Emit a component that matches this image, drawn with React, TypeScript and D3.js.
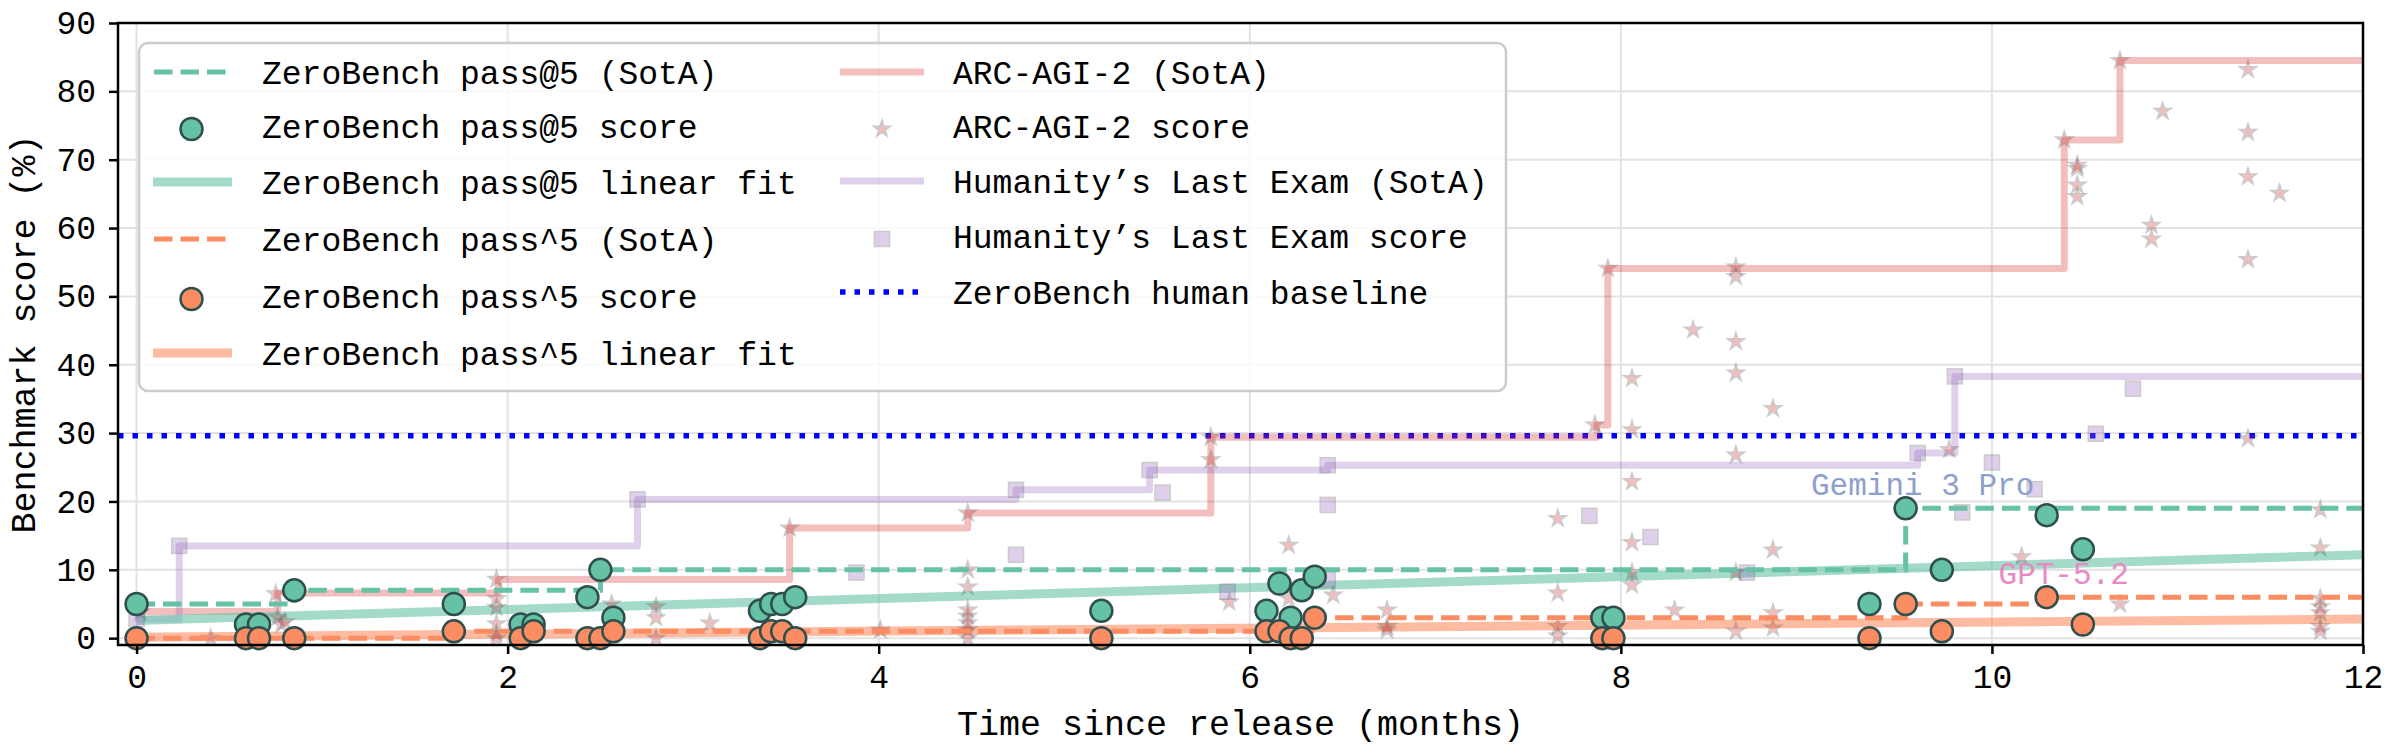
import * as React from 'react'
import * as d3 from 'd3'

const CHART_WIDTH = 2395
const CHART_HEIGHT = 755
const PLOT_LEFT = 118
const PLOT_RIGHT = 2363
const PLOT_TOP = 23
const PLOT_BOTTOM = 645
const FONT = '"Nimbus Mono PS", "Nimbus Mono L", "Courier New", Courier, FreeMono, "Liberation Mono", monospace'

// ZeroBench: months since release and scores (%) of each evaluated model
const zbMonths = [0, 0.59, 0.66, 0.85, 1.71, 2.07, 2.14, 2.43, 2.5, 2.57, 3.36, 3.42, 3.48, 3.55, 5.2, 6.09, 6.16, 6.22, 6.28, 6.35, 7.9, 7.96, 9.34, 9.535, 9.73, 10.295, 10.49]
const zbPass5 = [5, 2, 2, 7, 5, 2, 2, 6, 10, 3, 4, 5, 5, 6, 4, 4, 8, 3, 7, 9, 3, 3, 5, 19, 10, 18, 13]
const zbPassHat5 = [0, 0, 0, 0, 1, 0, 1, 0, 0, 1, 0, 1, 1, 0, 0, 1, 1, 0, 0, 3, 0, 0, 0, 5, 1, 6, 2]

// state of the art steps
const zbPass5SotaMonths = [0, 0.85, 2.5, 9.535, 12]
const zbPass5SotaValues = [5, 7, 10, 19, 19]
const zbPassHat5SotaMonths = [0, 1.71, 6.35, 9.535, 10.295, 12]
const zbPassHat5SotaValues = [0, 1, 3, 5, 6, 6]

// linear fits: [intercept, slope per month]
const zbPass5Fit = [2.6, 0.8]
const zbPassHat5Fit = [0.15, 0.22]
const fitMonths = [0, 12]

const arcSotaMonths = [0, 0.76, 1.95, 3.52, 4.48, 5.79, 7.87, 7.93, 10.39, 10.69, 12]
const arcSotaValues = [3.9, 6.6, 8.6, 16.1, 18.3, 29.4, 31.2, 54.1, 72.9, 84.5, 84.5]
const arcMonths = [0.02, 0.4, 0.75, 0.76, 0.78, 0.8, 1.94, 1.94, 1.94, 1.94, 1.94, 1.94, 2.56, 2.8, 2.8, 2.8, 3.09, 3.52, 4.01, 4.48, 4.48, 4.48, 4.48, 4.48, 4.48, 4.48, 4.48, 5.79, 5.79, 5.89, 6.21, 6.21, 6.45, 6.74, 6.74, 6.74, 7.66, 7.66, 7.66, 7.66, 7.86, 7.93, 8.06, 8.06, 8.06, 8.06, 8.06, 8.06, 8.29, 8.39, 8.62, 8.62, 8.62, 8.62, 8.62, 8.62, 8.62, 8.82, 8.82, 8.82, 8.82, 9.77, 10.16, 10.39, 10.46, 10.46, 10.46, 10.46, 10.69, 10.69, 10.86, 10.86, 10.92, 11.38, 11.38, 11.38, 11.38, 11.38, 11.55, 11.77, 11.77, 11.77, 11.77, 11.77, 11.77, 11.77]
const arcScores = [3.8, 0, 6.5, 3.0, 2.0, 2.4, 8.6, 5.8, 4.5, 2.1, 0.7, 0, 5.0, 4.6, 3.0, 0, 2.2, 16.1, 1.2, 18.3, 10, 7.5, 4.1, 3.2, 2.2, 1.2, 0, 29.4, 26.1, 5.3, 13.6, 5.8, 6.3, 4.1, 1.7, 1.2, 17.5, 6.6, 1.7, 0.3, 31.2, 54.1, 38.0, 30.5, 22.9, 14.0, 9.6, 7.8, 4.1, 45.1, 54.3, 52.9, 43.4, 38.8, 26.8, 9.6, 1.0, 33.6, 12.9, 3.7, 1.5, 27.6, 11.9, 72.9, 69.2, 68.7, 66.3, 64.6, 84.5, 5.0, 60.4, 58.4, 77.1, 83.2, 74.0, 67.5, 55.4, 29.2, 65.1, 18.8, 13.2, 5.8, 4.6, 3.7, 1.7, 1.0]

const hleSotaMonths = [0, 0.23, 2.7, 4.74, 5.46, 6.42, 9.6, 9.8, 12]
const hleSotaValues = [2.8, 13.5, 20.3, 21.7, 24.6, 25.3, 27.1, 38.3, 38.3]
const hleMonths = [0, 0.23, 2.7, 3.88, 4.74, 4.74, 5.46, 5.53, 5.88, 6.42, 6.42, 6.42, 7.83, 8.16, 8.68, 9.6, 9.8, 9.84, 10.0, 10.23, 10.56, 10.76]
const hleScores = [2.8, 13.5, 20.3, 9.6, 21.7, 12.2, 24.6, 21.3, 6.8, 25.3, 19.5, 8.5, 17.9, 14.8, 9.6, 27.1, 38.3, 18.4, 25.7, 21.8, 29.9, 36.5]

const humanBaseline = 29.6

const annotations = [
  { label: 'Gemini 3 Pro', month: 9.535, value: 19, color: '#8da0cb' },
  { label: 'GPT-5.2', month: 10.295, value: 6, color: '#e78ac3' }
]

const xTicks = [0, 2, 4, 6, 8, 10, 12]
const yTicks = [0, 10, 20, 30, 40, 50, 60, 70, 80, 90]

const GREEN = '#66c2a5'
const ORANGE = '#fc8d62'
const RED = '#d62728'
const PURPLE = '#9467bd'
const EDGE = '#2f4f4f'

type Pt = [number, number]
const zip = (a: number[], b: number[]): Pt[] => a.map((v, i) => [v, b[i]])

function drawChart(svgEl: SVGSVGElement) {
  const svg = d3.select(svgEl)
  svg.selectAll('*').remove()

  const x = d3.scaleLinear().domain([-0.1, 12]).range([PLOT_LEFT, PLOT_RIGHT])
  const y = d3.scaleLinear().domain([-1, 90]).range([PLOT_BOTTOM, PLOT_TOP])

  svg.append('defs')
    .append('clipPath')
    .attr('id', 'plot-clip')
    .append('rect')
    .attr('x', PLOT_LEFT)
    .attr('y', PLOT_TOP)
    .attr('width', PLOT_RIGHT - PLOT_LEFT)
    .attr('height', PLOT_BOTTOM - PLOT_TOP)

  // grid
  const grid = svg.append('g').attr('stroke', '#e3e3e3').attr('stroke-width', 2)
  grid.selectAll('line.gx').data(xTicks).join('line')
    .attr('class', 'gx')
    .attr('x1', d => x(d)).attr('x2', d => x(d))
    .attr('y1', PLOT_TOP).attr('y2', PLOT_BOTTOM)
  grid.selectAll('line.gy').data(yTicks).join('line')
    .attr('class', 'gy')
    .attr('x1', PLOT_LEFT).attr('x2', PLOT_RIGHT)
    .attr('y1', d => y(d)).attr('y2', d => y(d))

  const plot = svg.append('g').attr('clip-path', 'url(#plot-clip)')
  const stepLine = d3.line<Pt>().x(d => x(d[0])).y(d => y(d[1])).curve(d3.curveStepAfter)
  const straight = d3.line<Pt>().x(d => x(d[0])).y(d => y(d[1]))

  // human baseline
  plot.append('line')
    .attr('x1', PLOT_LEFT).attr('x2', PLOT_RIGHT)
    .attr('y1', y(humanBaseline)).attr('y2', y(humanBaseline))
    .attr('stroke', 'blue').attr('stroke-width', 5.5)
    .attr('stroke-dasharray', '5.5 9')

  // ARC-AGI-2 and HLE SotA
  plot.append('path')
    .attr('d', stepLine(zip(arcSotaMonths, arcSotaValues)))
    .attr('fill', 'none').attr('stroke', RED).attr('stroke-opacity', 0.3)
    .attr('stroke-width', 7).attr('stroke-linejoin', 'round')
  plot.append('path')
    .attr('d', stepLine(zip(hleSotaMonths, hleSotaValues)))
    .attr('fill', 'none').attr('stroke', PURPLE).attr('stroke-opacity', 0.3)
    .attr('stroke-width', 7).attr('stroke-linejoin', 'round')

  // linear fits
  const fitLine = (fit: number[]) => zip(fitMonths, fitMonths.map(m => fit[0] + fit[1] * m))
  plot.append('path')
    .attr('d', straight(fitLine(zbPass5Fit)))
    .attr('fill', 'none').attr('stroke', GREEN).attr('stroke-opacity', 0.6).attr('stroke-width', 9)
  plot.append('path')
    .attr('d', straight(fitLine(zbPassHat5Fit)))
    .attr('fill', 'none').attr('stroke', ORANGE).attr('stroke-opacity', 0.6).attr('stroke-width', 9)

  // ARC-AGI-2 stars
  const star = d3.symbol().type(d3.symbolStar).size(90)
  plot.append('g').selectAll('path').data(zip(arcMonths, arcScores)).join('path')
    .attr('d', star())
    .attr('transform', d => `translate(${x(d[0])},${y(d[1])})`)
    .attr('fill', RED).attr('stroke', '#555').attr('stroke-width', 1.5)
    .attr('opacity', 0.3)

  // HLE squares
  plot.append('g').selectAll('rect').data(zip(hleMonths, hleScores)).join('rect')
    .attr('x', d => x(d[0]) - 7.5).attr('y', d => y(d[1]) - 7.5)
    .attr('width', 15).attr('height', 15)
    .attr('fill', PURPLE).attr('stroke', '#555').attr('stroke-width', 1.5)
    .attr('opacity', 0.3)

  // ZeroBench SotA dashed steps
  plot.append('path')
    .attr('d', stepLine(zip(zbPass5SotaMonths, zbPass5SotaValues)))
    .attr('fill', 'none').attr('stroke', GREEN).attr('stroke-width', 5)
    .attr('stroke-dasharray', '18.5 8')
  plot.append('path')
    .attr('d', stepLine(zip(zbPassHat5SotaMonths, zbPassHat5SotaValues)))
    .attr('fill', 'none').attr('stroke', ORANGE).attr('stroke-width', 5)
    .attr('stroke-dasharray', '18.5 8')

  // ZeroBench scores
  svg.append('g').selectAll('circle').data(zip(zbMonths, zbPass5)).join('circle')
    .attr('cx', d => x(d[0])).attr('cy', d => y(d[1])).attr('r', 11)
    .attr('fill', GREEN).attr('stroke', EDGE).attr('stroke-width', 2.5)
  svg.append('g').selectAll('circle').data(zip(zbMonths, zbPassHat5)).join('circle')
    .attr('cx', d => x(d[0])).attr('cy', d => y(d[1])).attr('r', 11)
    .attr('fill', ORANGE).attr('stroke', EDGE).attr('stroke-width', 2.5)

  // annotations
  svg.append('g').selectAll('text').data(annotations).join('text')
    .attr('x', d => x(d.month) + 17)
    .attr('y', d => y(d.value) - 13)
    .attr('text-anchor', 'middle')
    .attr('font-family', FONT).attr('font-size', 31)
    .attr('fill', d => d.color)
    .text(d => d.label)

  // axes
  const yAxis = svg.append('g')
    .attr('transform', `translate(${PLOT_LEFT},0)`)
    .call(d3.axisLeft(y).tickValues(yTicks).tickSize(9).tickSizeOuter(0).tickPadding(13))
  const xAxis = svg.append('g')
    .attr('transform', `translate(0,${PLOT_BOTTOM})`)
    .call(d3.axisBottom(x).tickValues(xTicks).tickSize(9).tickSizeOuter(0).tickPadding(11))
  for (const ax of [yAxis, xAxis]) {
    ax.select('.domain').remove()
    ax.attr('font-family', FONT).attr('font-size', 33)
    ax.selectAll('line').attr('stroke-width', 2.5)
    ax.selectAll('text').attr('fill', '#000')
  }

  svg.append('rect')
    .attr('x', PLOT_LEFT).attr('y', PLOT_TOP)
    .attr('width', PLOT_RIGHT - PLOT_LEFT).attr('height', PLOT_BOTTOM - PLOT_TOP)
    .attr('fill', 'none').attr('stroke', '#000').attr('stroke-width', 2.5)

  svg.append('text')
    .attr('x', (PLOT_LEFT + PLOT_RIGHT) / 2).attr('y', 735)
    .attr('text-anchor', 'middle')
    .attr('font-family', FONT).attr('font-size', 35)
    .text('Time since release (months)')
  svg.append('text')
    .attr('transform', `translate(35,${(PLOT_TOP + PLOT_BOTTOM) / 2}) rotate(-90)`)
    .attr('text-anchor', 'middle')
    .attr('font-family', FONT).attr('font-size', 35)
    .text('Benchmark score (%)')

  drawLegend(svg)
}

type LegendKind = 'dash' | 'dot' | 'line' | 'fit' | 'circle' | 'star' | 'square'
interface LegendItem { label: string; kind: LegendKind; color: string; col: number; baseline: number }

const legendItems: LegendItem[] = [
  { label: 'ZeroBench pass@5 (SotA)', kind: 'dash', color: GREEN, col: 0, baseline: 84 },
  { label: 'ZeroBench pass@5 score', kind: 'circle', color: GREEN, col: 0, baseline: 138 },
  { label: 'ZeroBench pass@5 linear fit', kind: 'fit', color: GREEN, col: 0, baseline: 194 },
  { label: 'ZeroBench pass^5 (SotA)', kind: 'dash', color: ORANGE, col: 0, baseline: 251 },
  { label: 'ZeroBench pass^5 score', kind: 'circle', color: ORANGE, col: 0, baseline: 308 },
  { label: 'ZeroBench pass^5 linear fit', kind: 'fit', color: ORANGE, col: 0, baseline: 365 },
  { label: 'ARC-AGI-2 (SotA)', kind: 'line', color: RED, col: 1, baseline: 84 },
  { label: 'ARC-AGI-2 score', kind: 'star', color: RED, col: 1, baseline: 138 },
  { label: 'Humanity\u2019s Last Exam (SotA)', kind: 'line', color: PURPLE, col: 1, baseline: 193 },
  { label: 'Humanity\u2019s Last Exam score', kind: 'square', color: PURPLE, col: 1, baseline: 248 },
  { label: 'ZeroBench human baseline', kind: 'dot', color: 'blue', col: 1, baseline: 304 }
]
const LEGEND_HANDLE_X = [[153, 232], [840, 924]]
const LEGEND_TEXT_X = [262, 953]

function drawLegend(svg: d3.Selection<SVGSVGElement, unknown, null, undefined>) {
  const g = svg.append('g')
  g.append('rect')
    .attr('x', 139).attr('y', 43).attr('width', 1367).attr('height', 348).attr('rx', 9)
    .attr('fill', '#fff').attr('fill-opacity', 0.8)
    .attr('stroke', '#cccccc').attr('stroke-width', 2.5)

  legendItems.forEach(item => {
    const [x0, x1] = LEGEND_HANDLE_X[item.col]
    const cx = (x0 + x1) / 2
    const ly = item.baseline - 12
    const my = item.baseline - 9
    if (item.kind === 'dash' || item.kind === 'line' || item.kind === 'fit' || item.kind === 'dot') {
      const line = g.append('line')
        .attr('x1', x0).attr('x2', x1).attr('y1', ly).attr('y2', ly)
        .attr('stroke', item.color)
      if (item.kind === 'dash') line.attr('stroke-width', 5).attr('stroke-dasharray', '18.5 8').attr('x1', x0 + 1)
      if (item.kind === 'line') line.attr('stroke-width', 7).attr('stroke-opacity', 0.3)
      if (item.kind === 'fit') line.attr('stroke-width', 9).attr('stroke-opacity', 0.6)
      if (item.kind === 'dot') line.attr('stroke-width', 5.5).attr('stroke-dasharray', '5.5 9')
    } else if (item.kind === 'circle') {
      g.append('circle').attr('cx', cx - 1).attr('cy', my).attr('r', 11)
        .attr('fill', item.color).attr('stroke', EDGE).attr('stroke-width', 2.5)
    } else if (item.kind === 'star') {
      g.append('path').attr('d', d3.symbol().type(d3.symbolStar).size(90)())
        .attr('transform', `translate(${cx},${my})`)
        .attr('fill', item.color).attr('stroke', '#555').attr('stroke-width', 1.5).attr('opacity', 0.3)
    } else {
      g.append('rect').attr('x', cx - 7.5).attr('y', my - 7.5).attr('width', 15).attr('height', 15)
        .attr('fill', item.color).attr('stroke', '#555').attr('stroke-width', 1.5).attr('opacity', 0.3)
    }
    g.append('text')
      .attr('x', LEGEND_TEXT_X[item.col]).attr('y', item.baseline)
      .attr('font-family', FONT).attr('font-size', 33)
      .text(item.label)
  })
}

export default function App() {
  const svgRef = React.useRef<SVGSVGElement>(null)
  React.useEffect(() => {
    if (svgRef.current) drawChart(svgRef.current)
  }, [])
  return (
    <svg
      ref={svgRef}
      width={CHART_WIDTH}
      height={CHART_HEIGHT}
      style={{ position: 'absolute', left: 0, top: 0, background: '#fff' }}
    />
  )
}
